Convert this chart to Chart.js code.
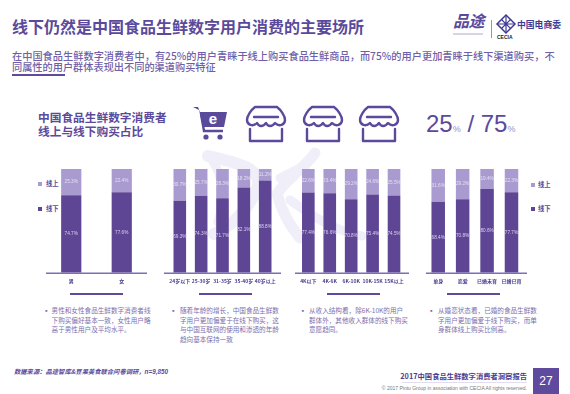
<!DOCTYPE html>
<html lang="zh"><head><meta charset="utf-8">
<script src="https://cdn.jsdelivr.net/npm/chart.js@4/dist/chart.umd.min.js"></script>
<style>
html,body{margin:0;padding:0;background:#fff}
body{width:570px;height:394px;position:relative;overflow:hidden;font-family:"Noto Sans CJK SC",sans-serif;color:#5b4a9b}
.t{position:absolute;white-space:nowrap;line-height:1}
canvas{position:absolute}
.ub{position:absolute;height:2px;background:#5f4a9e}
.sq{position:absolute;width:4px;height:4px}
.bl{position:absolute;font-size:6.6px;line-height:9.7px;color:#7d70ad;width:101px}
svg{position:absolute;overflow:visible}
</style></head><body>
<svg style="left:0;top:0" width="570" height="394" fill="none" stroke="#f0eef8" stroke-linecap="round" stroke-linejoin="round">
<path d="M208 156 C235 162 262 168 258 186 C250 208 232 226 214 234" stroke-width="12"/>
<path d="M212 160 C224 178 226 198 218 222" stroke-width="9"/>
<path d="M315 153 C305 168 285 180 277 194 C282 212 290 226 300 238" stroke-width="11"/>
<path d="M280 178 L300 168" stroke-width="9"/>
<path d="M290 200 C320 222 340 232 362 236" stroke-width="9"/>
</svg>
<div class="t" style="left:12px;top:18px;font-size:16px;font-weight:700">线下仍然是中国食品生鲜数字用户消费的主要场所</div>
<div class="t" style="left:12px;top:50.5px;font-size:10.2px;font-weight:500;color:#6f5fa9;letter-spacing:.02px">在中国食品生鲜数字消费者中，有25%的用户青睐于线上购买食品生鲜商品，而75%的用户更加青睐于线下渠道购买，不</div>
<div class="t" style="left:12px;top:61.5px;font-size:10.2px;font-weight:500;color:#6f5fa9">同属性的用户群体表现出不同的渠道购买特征</div>
<div class="ub" style="left:12px;top:73.5px;width:53px"></div>
<div class="t" style="left:38px;top:111px;font-size:11.7px;font-weight:700">中国食品生鲜数字消费者</div>
<div class="t" style="left:38px;top:125px;font-size:11.7px;font-weight:700">线上与线下购买占比</div>
<svg style="left:193px;top:106px" width="36" height="34"><path d="M0 1H5L7 6H34L31 21H10L6 4" fill="#5b4a9b"/><path d="M8 8L11 25H30" fill="none" stroke="#5b4a9b" stroke-width="2.4"/><circle cx="13" cy="31" r="2.6" fill="#5b4a9b"/><circle cx="27" cy="31" r="2.6" fill="#5b4a9b"/><text x="20" y="18" font-size="15" font-weight="700" fill="#fff" text-anchor="middle" font-family="Liberation Sans">e</text></svg>
<svg width="0" height="0"><defs><g id="store" fill="none" stroke="#5b4a9b" stroke-width="2.4" stroke-linecap="round" stroke-linejoin="round"><path d="M9 1H31C35 4 39 10 39 14C39 19 33 21 29 17C26 21 22 21 20 17C17 21 13 21 11 17C7 21 1 19 1 14C1 10 5 4 9 1Z"/><path d="M8 11H32"/><path d="M4 23V35H36V23"/></g></defs></svg>
<svg style="left:246px;top:106px" width="40" height="36"><use href="#store"/></svg>
<svg style="left:302.5px;top:106px" width="40" height="36"><use href="#store"/></svg>
<svg style="left:359px;top:106px" width="40" height="36"><use href="#store"/></svg>
<div class="t" style="left:426px;top:112px;font-size:24px;font-family:'Liberation Sans';color:#5b4a9b">25<span style="font-size:9px;color:#9a8fc4">%</span> / 75<span style="font-size:9px;color:#9a8fc4">%</span></div>

<div class="t" style="left:453px;top:12px;font-size:16px;font-weight:700;font-style:italic;font-family:'Noto Sans CJK SC';color:#5b4a9b;letter-spacing:-.5px">品途</div>
<svg style="left:453px;top:33px" width="30" height="2"><path d="M0 1H30" stroke="#cfc9e3" stroke-width="1.6"/></svg>
<svg style="left:491px;top:20px" width="2" height="18"><path d="M.5 0V18" stroke="#9a8fc4"/></svg>
<svg style="left:497px;top:15px" width="18" height="18" fill="none" stroke="#3e3a96" stroke-width="1.5"><path d="M9 0L18 9L9 18L0 9Z"/><path d="M4.5 4.5L13.500 13.500M13.500 4.500L4.500 13.500M9 0V18M0 9H18" stroke-width="1.2"/></svg>
<div class="t" style="left:497px;top:34.500px;font-size:5px;font-weight:700;font-family:'Liberation Sans';color:#222">CECIA</div>
<div class="t" style="left:517px;top:20.500px;font-size:8.800px;font-weight:700;color:#3e3a96">中国电商委</div>

<div class="sq" style="left:37.500px;top:182px;background:#a99bcf"></div>
<div class="t" style="left:46px;top:180.500px;font-size:6.300px;font-weight:700">线上</div>
<div class="sq" style="left:37.500px;top:206.500px;background:#5f4695"></div>
<div class="t" style="left:46px;top:205.500px;font-size:6.300px;font-weight:700">线下</div>
<div class="sq" style="left:531px;top:183px;background:#a99bcf"></div>
<div class="t" style="left:538px;top:181.500px;font-size:6.300px;font-weight:700">线上</div>
<div class="sq" style="left:531px;top:207px;background:#5f4695"></div>
<div class="t" style="left:538px;top:206px;font-size:6.300px;font-weight:700">线下</div>

<canvas id="c1" style="left:46px;top:169px"></canvas>
<canvas id="c2" style="left:164px;top:169px"></canvas>
<canvas id="c3" style="left:295px;top:169px"></canvas>
<canvas id="c4" style="left:426px;top:169px"></canvas>

<div class="ub" style="left:70px;top:293px;width:53px"></div>
<div class="ub" style="left:198.500px;top:293px;width:53px"></div>
<div class="ub" style="left:326.500px;top:293px;width:53px"></div>
<div class="ub" style="left:446.500px;top:293px;width:53px"></div>
<div class="bl" style="left:43px;top:306px">▪</div>
<div class="bl" style="left:51.600px;top:306px">男性和女性食品生鲜数字消费者线<br>下购买偏好基本一致，女性用户略<br>高于男性用户及平均水平。</div>
<div class="bl" style="left:170px;top:306px">▪</div>
<div class="bl" style="left:180px;top:306px">随着年龄的增长，中国食品生鲜数<br>字用户更加偏爱于在线下购买，这<br>与中国互联网的使用和渗透的年龄<br>趋向基本保持一致</div>
<div class="bl" style="left:299.500px;top:306px">▪</div>
<div class="bl" style="left:309px;top:306px">从收入结构看，除6K-10K的用户<br>群体外，其他收入群体的线下购买<br>意愿趋同。</div>
<div class="bl" style="left:428px;top:306px">▪</div>
<div class="bl" style="left:438px;top:306px">从婚恋状态看，已婚的食品生鲜数<br>字用户更加偏爱于线下购买，而单<br>身群体线上购买比例高。</div>

<div class="t" style="left:14px;top:369px;font-size:6.300px;font-weight:700;font-style:italic;color:#5b4a9b">数据来源：品途智库&amp;豆果美食联合问卷调研，<span style="font-family:'Liberation Sans'">n=9,850</span></div>
<div class="t" style="right:43px;top:372.500px;font-size:7.300px;font-weight:700;color:#4b3d8f">2017中国食品生鲜数字消费者洞察报告</div>
<div style="position:absolute;left:402px;top:382px;width:125px;height:1px;background:#e2deef"></div>
<div class="t" style="right:43px;top:385.500px;font-size:5px;font-family:'Liberation Sans';color:#777">© 2017 Pintu Group in association with CECIA All rights reserved.</div>
<div style="position:absolute;left:533px;top:368px;width:26px;height:26px;background:#5f4a9e;color:#fff;font:12px/26px 'Liberation Sans';text-align:center">27</div>

<script>
const seriesNames = ["线下", "线上"];
const genderCats = ["男", "女"];
const genderOffline = [74.7, 77.6];
const genderOnline = [25.3, 22.4];
const ageCats = ["24岁以下", "25-30岁", "31-35岁", "35-40岁", "40岁以上"];
const ageOffline = [69.3, 74.3, 71.7, 82.1, 88.8];
const ageOnline = [30.7, 25.7, 28.3, 18.2, 11.2];
const incomeCats = ["4K以下", "4K-6K", "6K-10K", "10K-15K", "15K以上"];
const incomeOffline = [77.4, 76.6, 70.8, 75.4, 74.5];
const incomeOnline = [22.6, 23.4, 29.2, 24.6, 25.5];
const maritalCats = ["单身", "恋爱", "已婚未育", "已婚已育"];
const maritalOffline = [68.4, 70.8, 80.6, 77.7];
const maritalOnline = [31.6, 29.2, 19.4, 22.3];

const dark = "#5f4695", light = "#a99bcf";
const labelPlugin = {
  id: "labelsAndBase",
  afterDatasetsDraw(chart) {
    const ctx = chart.ctx;
    ctx.save();
    ctx.textAlign = "center"; ctx.textBaseline = "middle";
    ctx.font = "4.7px 'Liberation Sans'";
    chart.data.datasets.forEach((ds, i) => {
      ctx.fillStyle = i === 0 ? "#d9d2ee" : "#e4dff3";
      chart.getDatasetMeta(i).data.forEach((bar, j) => {
        const top = Math.max(bar.y, chart.chartArea.top);
        ctx.fillText(ds.data[j].toFixed(1) + "%", bar.x, (top + bar.base) / 2);
      });
    });
    ctx.strokeStyle = "#7f6db5"; ctx.lineWidth = 1.6;
    ctx.beginPath();
    ctx.moveTo(0, chart.chartArea.bottom + .6);
    ctx.lineTo(chart.width, chart.chartArea.bottom + .6);
    ctx.stroke();
    ctx.restore();
  }
};
function panel(id, w, plotW, cats, offline, online, barPct) {
  const el = document.getElementById(id);
  el.width = w; el.height = 122;
  new Chart(el, {
    type: "bar",
    data: { labels: cats, datasets: [
      { label: seriesNames[0], data: offline, backgroundColor: dark },
      { label: seriesNames[1], data: online, backgroundColor: light }
    ]},
    options: {
      responsive: false, animation: false, devicePixelRatio: 1,
      layout: { padding: { left: 0, top: 0, bottom: 0, right: w - plotW } },
      plugins: { legend: { display: false }, tooltip: { enabled: false } },
      datasets: { bar: { barPercentage: barPct, categoryPercentage: 1 } },
      scales: {
        x: { stacked: true, grid: { display: false, drawTicks: false }, border: { display: false },
             afterFit: s => { s.height = 18.3; },
             ticks: { padding: 5.5, maxRotation: 0, autoSkip: false, color: "#4b3d8f",
                      font: { size: 5, weight: "700", family: "'Noto Sans CJK SC'" } } },
        y: { display: false, stacked: true, min: 0, max: 100 }
      }
    },
    plugins: [labelPlugin]
  });
}
panel("c1", 101, 101, genderCats, genderOffline, genderOnline, 0.4);
panel("c2", 117, 113.3, ageCats, ageOffline, ageOnline, 0.59);
panel("c3", 114, 113.3, incomeCats, incomeOffline, incomeOnline, 0.59);
panel("c4", 101, 101, maritalCats, maritalOffline, maritalOnline, 0.553);
</script>
</body></html>
